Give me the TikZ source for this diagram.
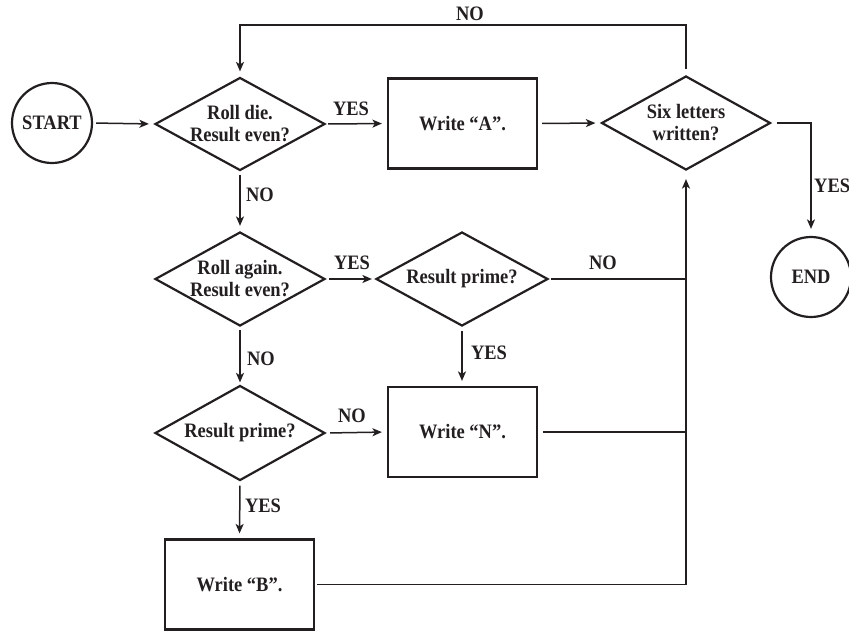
\documentclass[tikz,border=0pt]{standalone}
\usepackage{fontspec}
\setmainfont{Liberation Serif}[FakeStretch=0.9]
\usetikzlibrary{shapes.geometric,arrows.meta}
\definecolor{ink}{RGB}{35,31,32}
\begin{document}
\begin{tikzpicture}[x=1pt,y=-1pt,
  every node/.style={text=ink},
  font=\fontsize{20.5}{22}\selectfont\bfseries,
  dec/.style={diamond, draw=ink, line width=2.2pt, inner sep=0pt, align=center, aspect=1.83},
  proc/.style={rectangle, draw=ink, line width=2.2pt, align=center, minimum width=149pt, minimum height=90pt},
  term/.style={circle, draw=ink, line width=2.2pt, minimum size=80pt, inner sep=0pt},
  conn/.style={draw=ink, line width=1.5pt},
  arr/.style={conn, -{Stealth[length=9.5pt,width=8pt,inset=2.5pt]}, shorten >=5pt},
  lab/.style={inner sep=0pt}]
\useasboundingbox (0,0) rectangle (849,630);

% nodes
\node[term] (start) at (52,123) {START};
\node[dec, minimum width=170pt, minimum height=93pt] (d1) at (240,124) {Roll die.\\Result even?};
\node[proc] (A) at (462.5,123.5) {Write “A”.};
\node[dec, minimum width=169pt, minimum height=94pt] (d6) at (686,123) {Six letters\\written?};
\node[term] (end) at (811,277) {END};
\node[dec, minimum width=170pt, minimum height=94pt] (d2) at (240,279) {Roll again.\\Result even?};
\node[dec, minimum width=172pt, minimum height=94pt] (d3) at (462,279) {Result prime?};
\node[dec, minimum width=170pt, minimum height=95pt] (d4) at (240,433) {Result prime?};
\node[proc] (N) at (462.5,432) {Write “N”.};
\node[proc] (B) at (239.5,584.5) {Write “B”.};

\coordinate (loopL) at (240,25);

% connectors
\draw[arr, shorten <=3pt] (start.east) -- (d1.west);
\draw[arr, shorten <=2pt] (d1.east) -- (A.west);
\draw[arr, shorten <=4pt] (A.east) -- (d6.west);
\draw[arr, shorten <=6pt] (d6.north) |- (loopL) -- (d1.north);
\draw[arr, shorten <=5pt, shorten >=7pt] (d6.east) -| (end.north);
\draw[arr, shorten <=3pt] (d1.south) -- (d2.north);
\draw[arr, shorten <=3pt, shorten >=3pt] (d2.east) -- (d3.west);
\draw[arr, shorten <=4pt] (d3.south) -- (d3.south |- N.north);
\draw[arr, shorten <=3pt, shorten >=2pt] (d2.south) -- (d4.north);
\draw[arr, shorten <=4pt] (d4.east) -- (N.west);
\draw[arr, shorten <=4pt] (d4.south) -- (B.north);
\draw[conn, shorten <=2pt] (d3.east) -- (d3.east -| d6.south);
\draw[conn, shorten <=5pt] (N.east) -- (N.east -| d6.south);
\draw[arr, shorten <=2pt, shorten >=8pt] (B.east) -- (B.east -| d6.south) -- (d6.south);

% labels
\node[lab] (l1) at (470,14) {NO};
\node[lab] (l2) at (351,109) {YES};
\node[lab] (l3) at (260,195) {NO};
\node[lab, anchor=west] (l4) at (814,186) {YES};
\node[lab] (l5) at (352,263) {YES};
\node[lab] (l6) at (603,263) {NO};
\node[lab] (l7) at (489,353) {YES};
\node[lab] (l8) at (261,359) {NO};
\node[lab] (l9) at (352,416) {NO};
\node[lab] (l10) at (263,506) {YES};
\end{tikzpicture}
\end{document}
